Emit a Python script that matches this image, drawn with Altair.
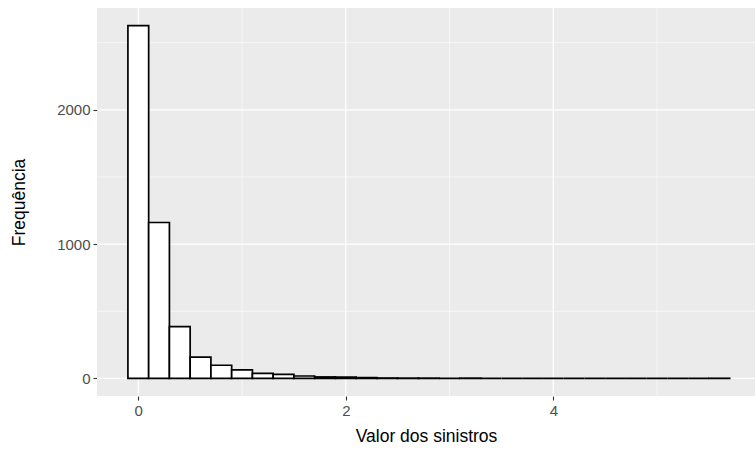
import altair as alt
import pandas as pd

# Histogram bins (lower edges, width 0.2) and counts
bin_lower = [-0.1, 0.1, 0.3, 0.5, 0.7, 0.9, 1.1, 1.3, 1.5, 1.7, 1.9, 2.1, 2.3, 2.5,
             2.7, 2.9, 3.1, 3.3, 3.5, 3.7, 3.9, 4.1, 4.3, 4.5, 4.7, 4.9, 5.1, 5.3, 5.5]
bin_upper = [-0.1 + 0.2 * (i + 1) for i in range(len(bin_lower))]
counts = [2627, 1161, 385, 158, 98, 64, 37, 30, 18, 11, 10, 6, 3, 2,
          2, 0, 2, 0, 0, 0, 0, 0, 0, 0, 0, 0, 0, 0, 1]

x_major = [0, 2, 4]
x_minor = [1, 3, 5]
y_major = [0, 1000, 2000]
y_minor = [500, 1500, 2500]

bars = pd.DataFrame({"lo": bin_lower, "hi": bin_upper, "n": counts, "zero": [0] * len(counts)})

FONT = "Liberation Sans"
xscale = alt.Scale(domain=[-0.398, 5.944], nice=False, zero=False)
yscale = alt.Scale(domain=[-131, 2758], nice=False, zero=False)

common = dict(grid=False, domain=False, tickColor="#333333", tickSize=4, tickWidth=1.1,
              labelColor="#4D4D4D", labelFont=FONT, labelFontSize=15, labelPadding=3,
              titleFont=FONT, titleFontSize=17.5, titleFontWeight="normal", titleColor="black",
              format="d")
xaxis = alt.Axis(values=x_major, title="Valor dos sinistros", titlePadding=9, **common)
yaxis = alt.Axis(values=y_major, title="Frequência", titlePadding=28, **common)


def vgrid(vals, w):
    return alt.Chart(pd.DataFrame({"v": vals})).mark_rule(color="white", strokeWidth=w).encode(
        x=alt.X("v:Q", scale=xscale, axis=xaxis))


def hgrid(vals, w):
    return alt.Chart(pd.DataFrame({"v": vals})).mark_rule(color="white", strokeWidth=w).encode(
        y=alt.Y("v:Q", scale=yscale, axis=yaxis))


hist = alt.Chart(bars).mark_rect(fill="white", stroke="black", strokeWidth=1.7).encode(
    x=alt.X("lo:Q", scale=xscale, axis=xaxis),
    x2="hi:Q",
    y=alt.Y("zero:Q", scale=yscale, axis=yaxis),
    y2="n:Q",
)

chart = alt.layer(
    vgrid(x_minor, 0.6), hgrid(y_minor, 0.6),
    vgrid(x_major, 1.3), hgrid(y_major, 1.3),
    hist,
).properties(
    width=658, height=388,
    autosize=alt.AutoSizeParams(type="none"),
    padding={"left": 97, "top": 8, "right": 1, "bottom": 54},
).configure(background="white").configure_view(fill="#EBEBEB", stroke=None)

chart.save("out.html", embed_options={"renderer": "svg", "actions": False})
